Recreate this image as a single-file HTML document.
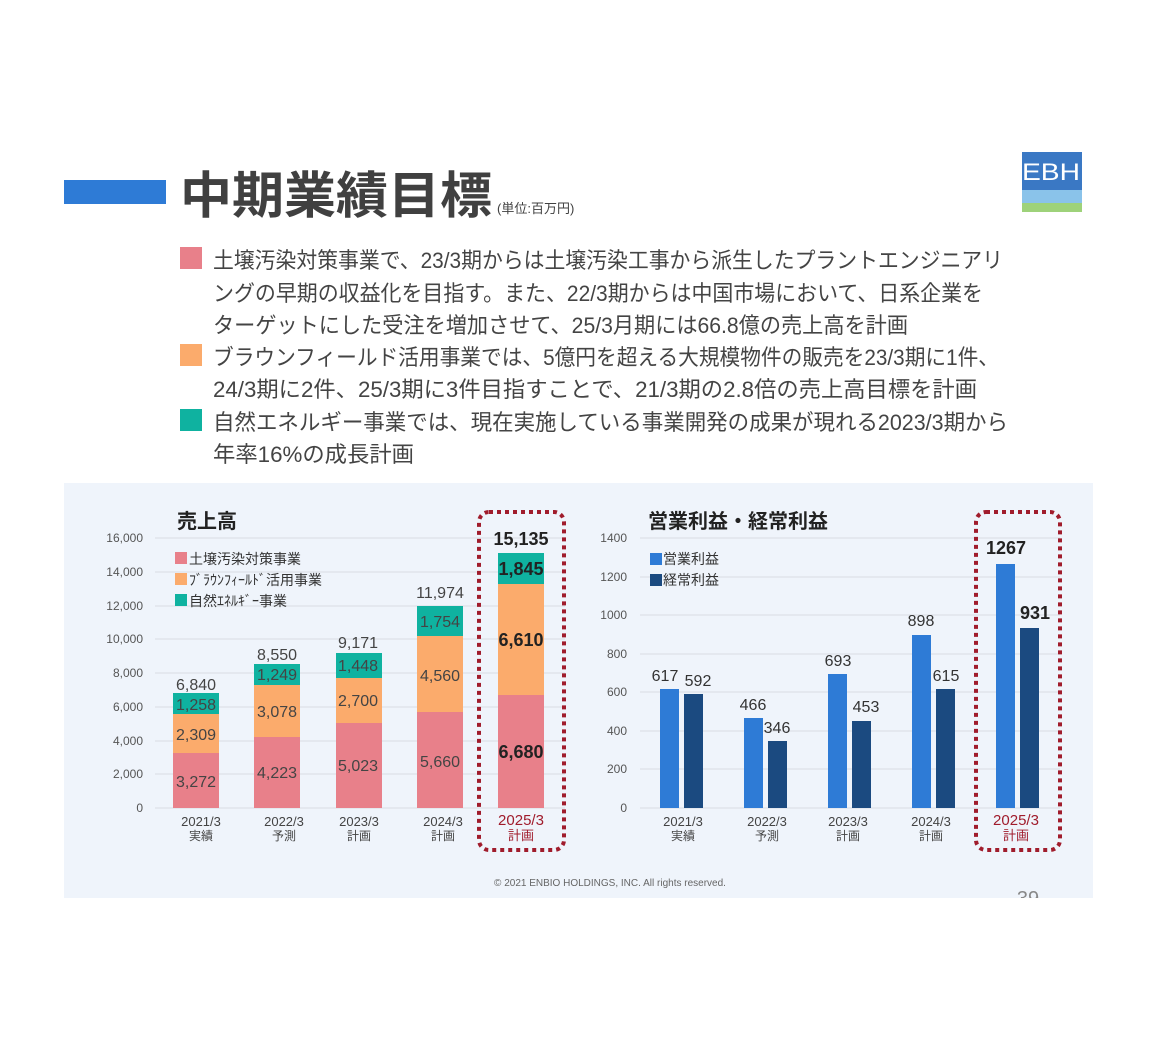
<!DOCTYPE html>
<html><head><meta charset="utf-8">
<style>
html,body{margin:0;padding:0;background:#fff;}
svg{display:block;}
text{font-family:"Liberation Sans","Noto Sans CJK JP",sans-serif;}
</style></head>
<body>
<svg width="1155" height="1044" viewBox="0 0 1155 1044" xmlns="http://www.w3.org/2000/svg">
<defs><clipPath id="pc"><rect x="64" y="483" width="1029" height="415"/></clipPath></defs>
<rect width="1155" height="1044" fill="#fff"/>
<!-- header -->
<rect x="64" y="180" width="102" height="24" fill="#2e7bd6"/>
<text x="180" y="213" font-size="50" font-weight="bold" fill="#404040" textLength="312" lengthAdjust="spacingAndGlyphs">中期業績目標</text>
<text x="497" y="213" font-size="13" fill="#404040">(単位:百万円)</text>
<!-- logo -->
<rect x="1022" y="152" width="60" height="60" fill="#3a78c4"/>
<rect x="1022" y="190" width="60" height="22" fill="#8ac3ea"/>
<rect x="1022" y="203" width="60" height="9" fill="#9ed27a"/>
<text x="1022" y="180" font-size="24" fill="#fff" textLength="58" lengthAdjust="spacingAndGlyphs">EBH</text>
<!-- bullets -->
<g font-size="22" fill="#444">
<rect x="180" y="247" width="22" height="22" fill="#e8808a"/>
<text x="213" y="268" textLength="790" lengthAdjust="spacingAndGlyphs">土壌汚染対策事業で、23/3期からは土壌汚染工事から派生したプラントエンジニアリ</text>
<text x="213" y="301" textLength="770" lengthAdjust="spacingAndGlyphs">ングの早期の収益化を目指す。また、22/3期からは中国市場において、日系企業を</text>
<text x="213" y="333" textLength="695" lengthAdjust="spacingAndGlyphs">ターゲットにした受注を増加させて、25/3月期には66.8億の売上高を計画</text>
<rect x="180" y="344" width="22" height="22" fill="#fbab6c"/>
<text x="213" y="365" textLength="786" lengthAdjust="spacingAndGlyphs">ブラウンフィールド活用事業では、5億円を超える大規模物件の販売を23/3期に1件、</text>
<text x="213" y="397" textLength="764" lengthAdjust="spacingAndGlyphs">24/3期に2件、25/3期に3件目指すことで、21/3期の2.8倍の売上高目標を計画</text>
<rect x="180" y="409" width="22" height="22" fill="#0fb2a0"/>
<text x="213" y="430" textLength="795" lengthAdjust="spacingAndGlyphs">自然エネルギー事業では、現在実施している事業開発の成果が現れる2023/3期から</text>
<text x="213" y="462" textLength="201" lengthAdjust="spacingAndGlyphs">年率16%の成長計画</text>
</g>
<!-- panel -->
<rect x="64" y="483" width="1029" height="415" fill="#eff4fb"/>
<!-- LEFT CHART -->
<text x="177" y="528" font-size="20" font-weight="bold" fill="#222">売上高</text>
<g stroke="#d8dde3" stroke-width="1">
<line x1="155" x2="565" y1="538" y2="538"/><line x1="155" x2="565" y1="572" y2="572"/>
<line x1="155" x2="565" y1="606" y2="606"/><line x1="155" x2="565" y1="639" y2="639"/>
<line x1="155" x2="565" y1="673" y2="673"/><line x1="155" x2="565" y1="707" y2="707"/>
<line x1="155" x2="565" y1="741" y2="741"/><line x1="155" x2="565" y1="774" y2="774"/>
<line x1="155" x2="565" y1="808" y2="808"/>
</g>
<g font-size="12" fill="#555" text-anchor="end">
<text x="143" y="542">16,000</text><text x="143" y="576">14,000</text><text x="143" y="610">12,000</text>
<text x="143" y="643">10,000</text><text x="143" y="677">8,000</text><text x="143" y="711">6,000</text>
<text x="143" y="745">4,000</text><text x="143" y="778">2,000</text><text x="143" y="812">0</text>
</g>
<g font-size="14" fill="#333">
<rect x="175" y="552" width="12" height="12" fill="#e8808a"/><text x="189" y="564">土壌汚染対策事業</text>
<rect x="175" y="573" width="12" height="12" fill="#fbab6c"/><text x="189" y="585">ﾌﾞﾗｳﾝﾌｨｰﾙﾄﾞ活用事業</text>
<rect x="175" y="594" width="12" height="12" fill="#0fb2a0"/><text x="189" y="606">自然ｴﾈﾙｷﾞｰ事業</text>
</g>
<g>
<rect x="173" y="753" width="46" height="55" fill="#e8808a"/><rect x="173" y="714" width="46" height="39" fill="#fbab6c"/><rect x="173" y="693" width="46" height="21" fill="#0fb2a0"/>
<rect x="254" y="737" width="46" height="71" fill="#e8808a"/><rect x="254" y="685" width="46" height="52" fill="#fbab6c"/><rect x="254" y="664" width="46" height="21" fill="#0fb2a0"/>
<rect x="336" y="723" width="46" height="85" fill="#e8808a"/><rect x="336" y="678" width="46" height="45" fill="#fbab6c"/><rect x="336" y="653" width="46" height="25" fill="#0fb2a0"/>
<rect x="417" y="712" width="46" height="96" fill="#e8808a"/><rect x="417" y="636" width="46" height="76" fill="#fbab6c"/><rect x="417" y="606" width="46" height="30" fill="#0fb2a0"/>
<rect x="498" y="695" width="46" height="113" fill="#e8808a"/><rect x="498" y="584" width="46" height="111" fill="#fbab6c"/><rect x="498" y="553" width="46" height="31" fill="#0fb2a0"/>
</g>
<g font-size="16" fill="#444" text-anchor="middle">
<text x="196" y="787">3,272</text><text x="196" y="740">2,309</text><text x="196" y="710">1,258</text><text x="196" y="690">6,840</text>
<text x="277" y="778">4,223</text><text x="277" y="717">3,078</text><text x="277" y="680">1,249</text><text x="277" y="660">8,550</text>
<text x="358" y="771">5,023</text><text x="358" y="706">2,700</text><text x="358" y="671">1,448</text><text x="358" y="648">9,171</text>
<text x="440" y="767">5,660</text><text x="440" y="681">4,560</text><text x="440" y="627">1,754</text><text x="440" y="598">11,974</text>
</g>
<g font-size="18" font-weight="bold" fill="#222" text-anchor="middle">
<text x="521" y="758">6,680</text><text x="521" y="646">6,610</text><text x="521" y="575">1,845</text><text x="521" y="545">15,135</text>
</g>
<g font-size="13" fill="#444" text-anchor="middle">
<text x="201" y="826">2021/3</text><text x="201" y="840" font-size="12">実績</text>
<text x="284" y="826">2022/3</text><text x="284" y="840" font-size="12">予測</text>
<text x="359" y="826">2023/3</text><text x="359" y="840" font-size="12">計画</text>
<text x="443" y="826">2024/3</text><text x="443" y="840" font-size="12">計画</text>
<text x="521" y="825" fill="#a01c2c" font-size="15">2025/3</text><text x="521" y="840" fill="#a01c2c" font-size="13">計画</text>
</g>
<rect x="479" y="512" width="85" height="338" rx="10" fill="none" stroke="#a01c2c" stroke-width="4" stroke-dasharray="4,4"/>
<!-- RIGHT CHART -->
<text x="648" y="528" font-size="20" font-weight="bold" fill="#222">営業利益・経常利益</text>
<g stroke="#d8dde3" stroke-width="1">
<line x1="640" x2="1060" y1="538" y2="538"/><line x1="640" x2="1060" y1="577" y2="577"/>
<line x1="640" x2="1060" y1="615" y2="615"/><line x1="640" x2="1060" y1="654" y2="654"/>
<line x1="640" x2="1060" y1="692" y2="692"/><line x1="640" x2="1060" y1="731" y2="731"/>
<line x1="640" x2="1060" y1="769" y2="769"/><line x1="640" x2="1060" y1="808" y2="808"/>
</g>
<g font-size="12" fill="#555" text-anchor="end">
<text x="627" y="542">1400</text><text x="627" y="581">1200</text><text x="627" y="619">1000</text>
<text x="627" y="658">800</text><text x="627" y="696">600</text><text x="627" y="735">400</text>
<text x="627" y="773">200</text><text x="627" y="812">0</text>
</g>
<g font-size="14" fill="#333">
<rect x="650" y="553" width="12" height="12" fill="#2e7bd6"/><text x="663" y="564">営業利益</text>
<rect x="650" y="574" width="12" height="12" fill="#1b4a80"/><text x="663" y="585">経常利益</text>
</g>
<g>
<rect x="660" y="689" width="19" height="119" fill="#2e7bd6"/><rect x="684" y="694" width="19" height="114" fill="#1b4a80"/>
<rect x="744" y="718" width="19" height="90" fill="#2e7bd6"/><rect x="768" y="741" width="19" height="67" fill="#1b4a80"/>
<rect x="828" y="674" width="19" height="134" fill="#2e7bd6"/><rect x="852" y="721" width="19" height="87" fill="#1b4a80"/>
<rect x="912" y="635" width="19" height="173" fill="#2e7bd6"/><rect x="936" y="689" width="19" height="119" fill="#1b4a80"/>
<rect x="996" y="564" width="19" height="244" fill="#2e7bd6"/><rect x="1020" y="628" width="19" height="180" fill="#1b4a80"/>
</g>
<g font-size="16" fill="#333" text-anchor="middle">
<text x="665" y="681">617</text><text x="698" y="686">592</text>
<text x="753" y="710">466</text><text x="777" y="733">346</text>
<text x="838" y="666">693</text><text x="866" y="712">453</text>
<text x="921" y="626">898</text><text x="946" y="681">615</text>
</g>
<g font-size="18" font-weight="bold" fill="#222" text-anchor="middle">
<text x="1006" y="554">1267</text><text x="1035" y="619">931</text>
</g>
<g font-size="13" fill="#444" text-anchor="middle">
<text x="683" y="826">2021/3</text><text x="683" y="840" font-size="12">実績</text>
<text x="767" y="826">2022/3</text><text x="767" y="840" font-size="12">予測</text>
<text x="848" y="826">2023/3</text><text x="848" y="840" font-size="12">計画</text>
<text x="931" y="826">2024/3</text><text x="931" y="840" font-size="12">計画</text>
<text x="1016" y="825" fill="#a01c2c" font-size="15">2025/3</text><text x="1016" y="840" fill="#a01c2c" font-size="13">計画</text>
</g>
<rect x="976" y="512" width="84" height="338" rx="10" fill="none" stroke="#a01c2c" stroke-width="4" stroke-dasharray="4,4"/>
<text x="610" y="886" font-size="10" fill="#666" text-anchor="middle">© 2021 ENBIO HOLDINGS, INC. All rights reserved.</text>
<text x="1028" y="905" font-size="20" fill="#888" text-anchor="middle" clip-path="url(#pc)">39</text>
</svg>
</body></html>
